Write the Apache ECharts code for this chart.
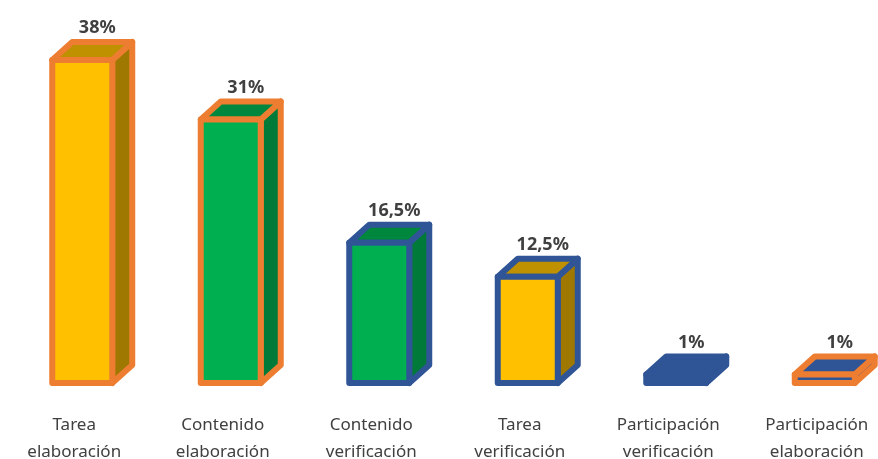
<!DOCTYPE html>
<html>
<head>
<meta charset="utf-8">
<script src="https://cdn.jsdelivr.net/npm/echarts@6/dist/echarts.min.js"></script>
<style>
  html, body { margin: 0; padding: 0; background: #fff; }
  #chart { width: 878px; height: 459px; }
</style>
</head>
<body>
<div id="chart"></div>
<script>
const categories = [
  'Tarea\nelaboración',
  'Contenido\nelaboración',
  'Contenido\nverificación',
  'Tarea\nverificación',
  'Participación\nverificación',
  'Participación\nelaboración'
];
const values = [38, 31, 16.5, 12.5, 1, 1];
// fill colour and border colour of each bar
const fills = ['yellow', 'green', 'green', 'yellow', 'blue', 'blue'];
const borders = ['orange', 'orange', 'blue', 'blue', 'blue', 'orange'];

const palette = {
  yellow: { front: '#FFC000', side: '#9E7800', top: '#BF9000' },
  green: { front: '#00B050', side: '#007A38', top: '#00873E' },
  blue: { front: '#2F5597', side: '#2A4C88', top: '#2F5597' }
};
const edge = { orange: '#ED7D31', blue: '#2F5597' };

const depthX = 20, depthY = 18, barW = 60, shift = 8;

const chart = echarts.init(document.getElementById('chart'));

chart.setOption({
  animation: false,
  grid: { left: 0, right: -13, top: 43, bottom: 76, outerBoundsMode: 'none', containLabel: false },
  xAxis: {
    type: 'category',
    data: categories,
    axisLine: { show: false },
    axisTick: { show: false },
    axisLabel: {
      interval: 0,
      margin: 29,
      color: '#404040',
      fontSize: 17,
      lineHeight: 27,
      fontFamily: 'Noto Sans'
    }
  },
  yAxis: {
    type: 'value',
    min: 0,
    max: 40,
    show: false,
    splitLine: { show: false }
  },
  series: [{
    type: 'custom',
    clip: false,
    data: values.map((v, i) => [i, v]),
    renderItem: (params, api) => {
      const i = api.value(0);
      const top = api.coord([i, api.value(1)]);
      const base = api.coord([i, 0]);
      const x0 = top[0] + shift - barW / 2;
      const x1 = x0 + barW;
      const yT = top[1], yB = base[1];
      const c = palette[fills[i]];
      const stroke = edge[borders[i]];
      const lineStyle = { stroke, lineWidth: 6, lineJoin: 'round' };
      return {
        type: 'group',
        children: [
          {
            type: 'polygon',
            shape: { points: [[x1, yT], [x1 + depthX, yT - depthY], [x1 + depthX, yB - depthY], [x1, yB]] },
            style: Object.assign({ fill: c.side }, lineStyle)
          },
          {
            type: 'polygon',
            shape: { points: [[x0, yT], [x0 + depthX, yT - depthY], [x1 + depthX, yT - depthY], [x1, yT]] },
            style: Object.assign({ fill: c.top }, lineStyle)
          },
          {
            type: 'rect',
            shape: { x: x0, y: yT, width: barW, height: yB - yT },
            style: Object.assign({ fill: c.front }, lineStyle)
          },
          {
            type: 'text',
            style: {
              x: (x0 + x1) / 2 + 15,
              y: yT - depthY - 5,
              text: String(api.value(1)).replace('.', ',') + '%',
              align: 'center',
              verticalAlign: 'bottom',
              fill: '#404040',
              fontSize: 18,
              fontWeight: 'bold',
              fontFamily: 'Noto Sans'
            }
          }
        ]
      };
    }
  }]
});
</script>
</body>
</html>
